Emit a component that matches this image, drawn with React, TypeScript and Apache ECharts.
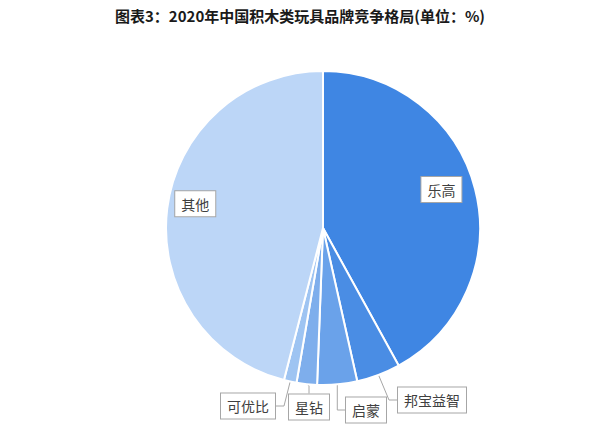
import React, { useEffect, useRef } from "react";
import * as echarts from "echarts";

const titleText = "图表3：2020年中国积木类玩具品牌竞争格局(单位：%)";
const brands = ["乐高", "邦宝益智", "启蒙", "星钻", "可优比", "其他"];
const shares = [42.0, 4.5, 4.1, 2.1, 1.3, 46.0];
const colors = ["#3f86e3", "#4a8de4", "#6aa2ea", "#7eaeec", "#9ec4f2", "#bcd6f7"];
const insideLabels = ["乐高", "其他"];

const CX = 323;
const CY = 228;
// radial push-out factor for the inside labels (label layout only)
const insidePush: Record<string, number> = { "乐高": 0.5, "其他": 0.58 };
// label anchor placements for small outside slices (label layout only)
const outsideLabelPos: Record<string, [number, number]> = {
  "邦宝益智": [432, 400],
  "启蒙": [366, 410],
  "星钻": [309, 407],
  "可优比": [248, 406],
};

export default function App() {
  const ref = useRef<HTMLDivElement>(null);
  useEffect(() => {
    if (!ref.current) return;
    const chart = echarts.init(ref.current, undefined, { renderer: "svg" });
    const labelStyle = {
      formatter: "{b}",
      color: "#404040",
      fontSize: 14,
      fontFamily: "Noto Sans CJK SC",
      backgroundColor: "#ffffff",
      borderColor: "#a6a6a6",
      borderWidth: 1,
      padding: [6, 6, 5, 6],
    };
    chart.setOption({
      animation: false,
      backgroundColor: "#ffffff",
      title: {
        text: titleText,
        left: "center",
        top: 3,
        textStyle: {
          fontSize: 15,
          fontWeight: "bold",
          color: "#1a1a1a",
          fontFamily: "Noto Sans CJK SC",
        },
      },
      series: [
        {
          type: "pie",
          center: [CX, CY],
          radius: 157,
          startAngle: 90,
          clockwise: true,
          itemStyle: { borderColor: "#ffffff", borderWidth: 2 },
          labelLine: {
            show: true,
            length: 16,
            length2: 8,
            lineStyle: { color: "#a6a6a6", width: 1 },
          },
          label: { ...labelStyle, position: "outside" },
          labelLayout: (p: any) => {
            const name = brands[p.dataIndex];
            if (insideLabels.includes(name)) {
              const r = p.labelRect;
              const lx = r.x + r.width / 2;
              const ly = r.y + r.height / 2;
              const k = insidePush[name];
              return { dx: (lx - CX) * k, dy: (ly - CY) * k - 8 };
            }
            const pos = outsideLabelPos[name];
            if (pos) {
              return { x: pos[0], y: pos[1], align: "center", verticalAlign: "middle" };
            }
            return {};
          },
          data: brands.map((b, i) => ({
            name: b,
            value: shares[i],
            itemStyle: { color: colors[i] },
            label: insideLabels.includes(b) ? { position: "inside" } : undefined,
            labelLine: insideLabels.includes(b) ? { show: false } : undefined,
          })),
        },
      ],
    });
    return () => chart.dispose();
  }, []);
  return (
    <div
      ref={ref}
      style={{ position: "fixed", left: 0, top: 0, width: 600, height: 434 }}
    />
  );
}
